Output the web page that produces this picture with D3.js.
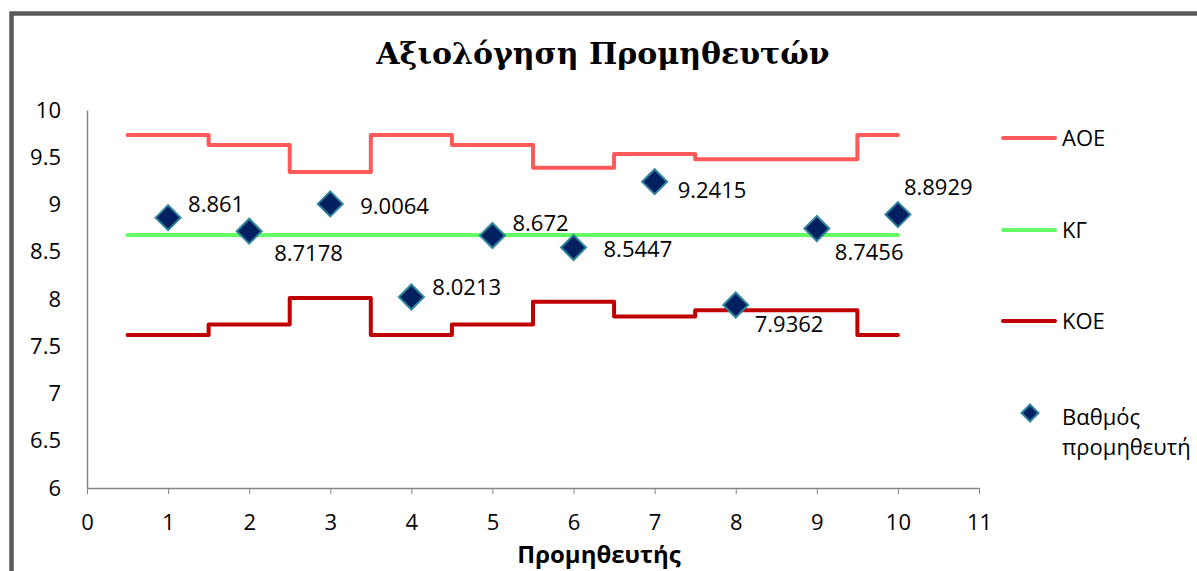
<!DOCTYPE html>
<html>
<head>
<meta charset="utf-8">
<script src="https://cdn.jsdelivr.net/npm/d3@7/dist/d3.min.js"></script>
<style>
  html, body { margin: 0; padding: 0; background: #fff; }
  svg { display: block; }
  .axis text { font-family: "Open Sans", sans-serif; font-size: 22px; fill: #000; }
</style>
</head>
<body>
<svg id="chart" width="1197" height="571"></svg>
<script>
// Supplier numbers and their scores
const suppliers = [1, 2, 3, 4, 5, 6, 7, 8, 9, 10];
const scores = [8.861, 8.7178, 9.0064, 8.0213, 8.672, 8.5447, 9.2415, 7.9362, 8.7456, 8.8929];
// Upper control limit (ΑΟΕ), centre line (ΚΓ), lower control limit (ΚΟΕ) per supplier
const upperLimit = [9.735, 9.63, 9.345, 9.735, 9.63, 9.39, 9.535, 9.48, 9.48, 9.735];
const centreLine = [8.677, 8.677, 8.677, 8.677, 8.677, 8.677, 8.677, 8.677, 8.677, 8.677];
const lowerLimit = [7.62, 7.73, 8.01, 7.62, 7.73, 7.97, 7.815, 7.88, 7.88, 7.62];
// Axis ticks
const xTicks = [0, 1, 2, 3, 4, 5, 6, 7, 8, 9, 10, 11];
const yTicks = [6, 6.5, 7, 7.5, 8, 8.5, 9, 9.5, 10];
// Hand-placed value label offsets (px from the marker: left edge, baseline)
const labelOffsets = [[20, -6], [25, 30], [30, 10], [21, -2], [20, -4], [30, 9], [23, 16], [19, 27], [18, 31], [6, -20]];

const svg = d3.select("#chart");

// Outer chart frame
svg.append("rect")
  .attr("x", 11.5).attr("y", 13.5)
  .attr("width", 1400).attr("height", 800)
  .attr("fill", "none").attr("stroke", "#595959").attr("stroke-width", 4.5);

const x = d3.scaleLinear().domain([0, 11]).range([87, 979]);
const y = d3.scaleLinear().domain([6, 10]).range([488, 110]);

// Axes
const xAxis = svg.append("g").attr("class", "axis")
  .attr("transform", `translate(0,${y(6)})`)
  .call(d3.axisBottom(x).tickValues(xTicks).tickFormat(d3.format("d"))
    .tickSize(6).tickSizeOuter(0).tickPadding(20));
xAxis.selectAll("line").attr("stroke", "#868686");
xAxis.select(".domain").attr("stroke", "#868686").attr("stroke-width", 1.5);

const yAxis = svg.append("g").attr("class", "axis")
  .attr("transform", `translate(${x(0)},0)`)
  .call(d3.axisLeft(y).tickValues(yTicks).tickFormat(d => String(d))
    .tickSize(0).tickPadding(26));
yAxis.select(".domain").attr("stroke", "#868686").attr("stroke-width", 1.5);

// Step lines: each supplier's value spans ±0.5 around it, last one ends at the supplier
function stepPoints(vals) {
  const pts = suppliers.map((s, i) => [s - 0.5, vals[i]]);
  pts.push([suppliers[suppliers.length - 1], vals[vals.length - 1]]);
  return pts;
}
const stepLine = d3.line()
  .x(d => x(d[0])).y(d => y(d[1]))
  .curve(d3.curveStepAfter);

const series = [
  { name: "ΑΟΕ", vals: upperLimit, color: "#FF5959" },
  { name: "ΚΓ", vals: centreLine, color: "#63FB63" },
  { name: "ΚΟΕ", vals: lowerLimit, color: "#C00000" }
];

series.forEach(s => {
  svg.append("path")
    .attr("d", stepLine(stepPoints(s.vals)))
    .attr("fill", "none")
    .attr("stroke", s.color)
    .attr("stroke-width", 4)
    .attr("stroke-linecap", "round")
    .attr("stroke-linejoin", "round");
});

// Diamond markers for the supplier scores
const diamond = r => `M0,${-r}L${r},0L0,${r}L${-r},0Z`;
svg.append("g").selectAll("path")
  .data(scores)
  .join("path")
  .attr("d", diamond(12.5))
  .attr("transform", (d, i) => `translate(${x(suppliers[i])},${y(d)})`)
  .attr("fill", "#002060")
  .attr("stroke", "#31859C")
  .attr("stroke-width", 2);

// Value labels
svg.append("g").selectAll("text")
  .data(scores)
  .join("text")
  .attr("x", (d, i) => x(suppliers[i]) + labelOffsets[i][0])
  .attr("y", (d, i) => y(d) + labelOffsets[i][1])
  .attr("font-family", "Open Sans, sans-serif")
  .attr("font-size", 22)
  .attr("fill", "#000")
  .text(d => String(d));

// Title
svg.append("text")
  .attr("x", 603).attr("y", 64)
  .attr("text-anchor", "middle")
  .attr("font-family", "DejaVu Serif, serif")
  .attr("font-weight", "bold")
  .attr("font-size", 30)
  .text("Αξιολόγηση Προμηθευτών");

// X axis title
svg.append("text")
  .attr("x", 599).attr("y", 563)
  .attr("text-anchor", "middle")
  .attr("font-family", "Open Sans, sans-serif")
  .attr("font-weight", "bold")
  .attr("font-size", 24)
  .text("Προμηθευτής");

// Legend
const legend = svg.append("g").attr("font-family", "Open Sans, sans-serif").attr("font-size", 22);
const legendY = [138, 230, 321];
series.forEach((s, i) => {
  legend.append("line")
    .attr("x1", 1003).attr("x2", 1055)
    .attr("y1", legendY[i]).attr("y2", legendY[i])
    .attr("stroke", s.color).attr("stroke-width", 4)
    .attr("stroke-linecap", "round");
  legend.append("text")
    .attr("x", 1062).attr("y", legendY[i] + 8)
    .text(s.name);
});
legend.append("path")
  .attr("d", diamond(8.5))
  .attr("transform", "translate(1030,413)")
  .attr("fill", "#002060").attr("stroke", "#31859C").attr("stroke-width", 2);
const lt = legend.append("text").attr("x", 1062).attr("y", 425);
lt.append("tspan").attr("x", 1062).text("Βαθμός");
lt.append("tspan").attr("x", 1062).attr("dy", 30).text("προμηθευτή");
</script>
</body>
</html>
